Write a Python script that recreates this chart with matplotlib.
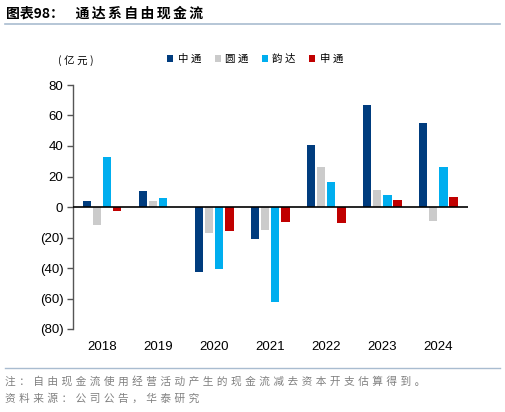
import matplotlib
matplotlib.use("Agg")
import matplotlib.pyplot as plt
import numpy as np

years = ["2018", "2019", "2020", "2021", "2022", "2023", "2024"]
series_names = ["中\u2005通", "圆\u2005通", "韵\u2005达", "申\u2005通"]
zto = [4.0, 10.5, -42.8, -21.2, 40.4, 66.9, 55.1]
yto = [-11.6, 4.2, -17.3, -15.1, 26.2, 11.4, -9.2]
yunda = [32.8, 6.1, -40.9, -62.5, 16.4, 7.9, 26.0]
sto = [-2.4, 0.0, -15.7, -9.6, -10.3, 4.6, 6.6]
yticks = [80, 60, 40, 20, 0, -20, -40, -60, -80]
ytick_labels = ["80", "60", "40", "20", "0", "(20)", "(40)", "(60)", "(80)"]

colors = ["#003C7E", "#CBCBCB", "#00AEEF", "#C00000"]
cjk = ["Noto Sans CJK SC", "DejaVu Sans"]
num_font = ["Liberation Sans", "DejaVu Sans"]


def spaced(s, sp):
    return sp.join(list(s))


fig = plt.figure(figsize=(5.05, 4.12), dpi=100)
W, H = 505, 412

ax = fig.add_axes([73 / W, 1 - 329 / H, (468 - 73) / W, (329 - 85) / H])
x = np.arange(len(years))
bw = 0.15
step = 0.18
offsets = [-1.5 * step, -0.5 * step, 0.5 * step, 1.5 * step]
for vals, off, c, name in zip([zto, yto, yunda, sto], offsets, colors, series_names):
    ax.bar(x + off, vals, width=bw, color=c, label=name, zorder=2)

ax.set_xlim(-0.52, 6.53)
ax.set_ylim(-80, 80)
ax.axhline(0, color="black", lw=1.2, zorder=3)
ax.set_yticks(yticks)
ax.set_yticklabels(ytick_labels, fontfamily=num_font, fontsize=9.5)
ax.set_xticks(x)
ax.set_xticklabels(years, fontfamily=num_font, fontsize=9.5)
ax.tick_params(axis="x", length=0, pad=9)
ax.tick_params(axis="y", length=4, width=1, color="#555555", direction="out", pad=3)
for s in ["top", "right", "bottom"]:
    ax.spines[s].set_visible(False)
ax.spines["left"].set_color("#555555")
ax.spines["left"].set_linewidth(1)

# title and rules
title = "图表98：\u2002\u2004" + spaced("通达系自由现金流", "\u2006")
fig.text(6 / W, 1 - 14 / H, title, fontfamily=cjk, fontsize=10,
         fontweight="bold", va="center", ha="left")
fig.add_artist(plt.Line2D([5 / W, 500 / W], [1 - 24 / H, 1 - 24 / H], color="#A9BCD0", lw=1.2))
fig.add_artist(plt.Line2D([5 / W, 500 / W], [1 - 368 / H, 1 - 368 / H], color="#A9BCD0", lw=1.0))

fig.text(58 / W, 1 - 61 / H, spaced("(亿元)", "\u2005"), fontfamily=cjk, fontsize=7.5,
         va="center", ha="left")

leg = fig.legend(loc="center left", bbox_to_anchor=(162 / W, 1 - 59 / H), ncol=4, frameon=False,
                 prop={"family": cjk, "size": 7.5}, handlelength=0.6, handleheight=0.6,
                 handletextpad=0.4, columnspacing=1.3, borderpad=0)

note1 = spaced("注：自由现金流使用经营活动产生的现金流减去资本开支估算得到。", "\u2004")
note2 = spaced("资料来源：公司公告，华泰研究", "\u2004")
fig.text(5 / W, 1 - 381 / H, note1, fontfamily=cjk,
         fontsize=7.7, color="#808080", va="center", ha="left")
fig.text(5 / W, 1 - 399 / H, note2, fontfamily=cjk,
         fontsize=7.7, color="#808080", va="center", ha="left")

fig.savefig("out.png", dpi=100)
